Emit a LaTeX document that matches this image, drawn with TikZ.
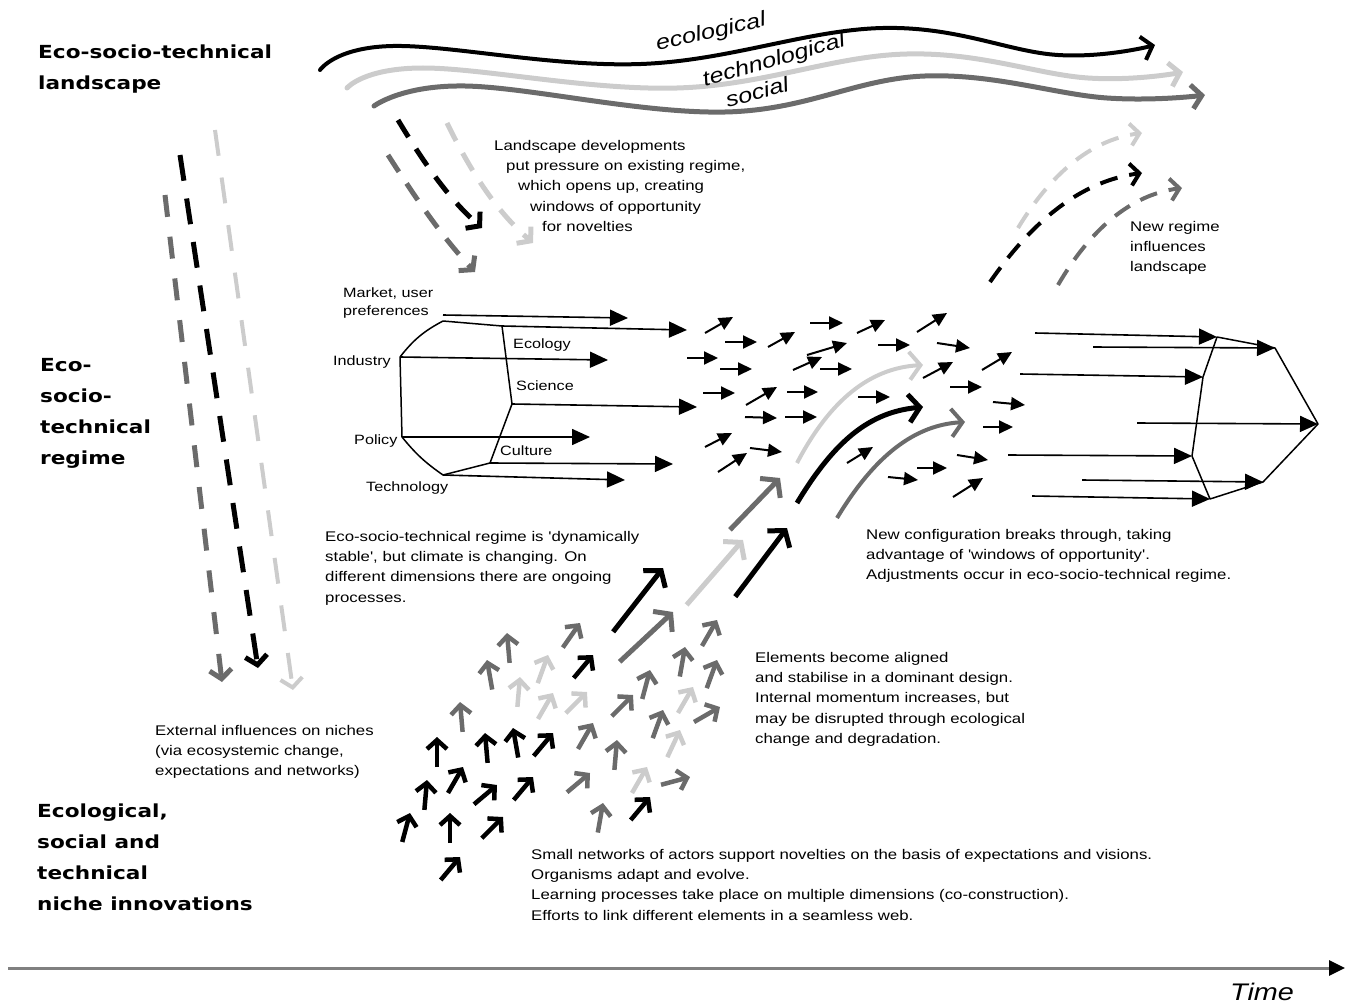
\documentclass[tikz,border=0pt]{standalone}
\usepackage{fontspec}
\newfontfamily\headfont[FakeStretch=1.2]{DejaVu Sans Bold}
\newfontfamily\bodyfont[FakeStretch=1.2]{Liberation Sans}
\usetikzlibrary{arrows.meta,positioning,calc}
\definecolor{darkgr}{gray}{0.42}
\definecolor{lightgr}{gray}{0.8}

\begin{document}
\begin{tikzpicture}[x=1pt,y=-1pt,
 level/.style={anchor=north west,inner sep=0pt,align=left,font=\headfont\fontsize{18}{31}\selectfont},
 txt/.style={anchor=north west,inner sep=0pt,align=left,font=\bodyfont\fontsize{14}{20.3}\selectfont},
 lab/.style={anchor=north west,inner sep=0pt,align=left,font=\bodyfont\fontsize{13.5}{18}\selectfont},
 hand/.style={inner sep=0pt,font=\bodyfont\itshape\fontsize{21}{21}\selectfont},
 wave/.style={line width=4pt,line cap=round,-{Straight Barb[length=10pt,width=24pt]}},
 press/.style={line width=5pt,dash pattern=on 20pt off 14pt,-{Straight Barb[length=9pt,width=22pt]}},
 flow/.style={line width=1.6pt,-{Triangle[length=18pt,width=16pt]}},
 edge/.style={line width=1.5pt,line join=round},
 tiny/.style={line width=2pt,-{Triangle[length=14pt,width=13pt]}},
 niche/.style={line width=4.5pt,-{Straight Barb[length=9pt,width=20pt]}},
 burst/.style={line width=5pt,-{Straight Barb[length=11pt,width=28pt]}}]
 \useasboundingbox (0,0) rectangle (1351,1006);

 % levels
 \node[level] (land) at (38,45) {Eco-socio-technical\\landscape};
 \node[level] (regime) at (40,358) {Eco-\\socio-\\technical\\regime};
 \node[level] (niche) at (37,804) {Ecological,\\social and\\technical\\niche innovations};

 % landscape waves
 \draw[wave] plot[smooth,tension=0.65] coordinates {(320,70) (393,46) (641,64) (883,28) (1058,55) (1155,45)};
 \draw[wave,lightgr,line width=5pt] plot[smooth,tension=0.65] coordinates {(347,88) (423,68) (677,88) (907,54) (1088,78) (1183,72)};
 \draw[wave,darkgr,line width=5pt] plot[smooth,tension=0.65] coordinates {(374,106) (465,86) (725,112) (925,76) (1107,98) (1205,95)};
 \node[hand,rotate=13] (eco) at (711,33) {ecological};
 \node[hand,rotate=16] (tech) at (774,61) {technological};
 \node[hand,rotate=15] (soc) at (757,92) {social};

 % pressure on the regime
 \draw[press,darkgr] (388,155) .. controls (420,205) and (445,240) .. (475,272);
 \draw[press] (398,120) .. controls (425,165) and (450,200) .. (482,228);
 \draw[press,lightgr] (447,123) .. controls (470,170) and (495,210) .. (533,243);
 \node[txt] (pressure) at (494,140) {Landscape developments\\\hspace*{12pt}put pressure on existing regime,\\\hspace*{24pt}which opens up, creating\\\hspace*{36pt}windows of opportunity\\\hspace*{48pt}for novelties};

 % external influences on niches
 \draw[press,darkgr,dash pattern=on 22pt off 20pt] (165,195) -- (222,682);
 \draw[press,dash pattern=on 26pt off 18pt] (180,155) -- (258,668);
 \draw[press,lightgr,line width=4pt,dash pattern=on 26pt off 22pt] (215,130) -- (293,690);
 \node[txt] (external) at (155,725) {External influences on niches\\(via ecosystemic change,\\expectations and networks)};

 % old regime
 \coordinate (o1) at (443,321);
 \coordinate (o2) at (502,326);
 \coordinate (o3) at (512,404);
 \coordinate (o4) at (490,463);
 \coordinate (o5) at (443,475);
 \coordinate (o6) at (402,437);
 \coordinate (o7) at (400,357);
 \coordinate (m0) at (443,315);
 \draw[edge] (o7) to[bend left=12] (o1) -- (o2) -- (o3) -- (o4) -- (o5) to[bend left=8] (o6) -- (o7);
 \coordinate (e1) at (628,318);
 \coordinate (e2) at (687,330);
 \coordinate (e3) at (608,360);
 \coordinate (e4) at (697,407);
 \coordinate (e5) at (590,437);
 \coordinate (e6) at (673,464);
 \coordinate (e7) at (625,480);
 \draw[flow] (m0) -- (e1);
 \draw[flow] (o2) -- (e2);
 \draw[flow] (o7) -- (e3);
 \draw[flow] (o3) -- (e4);
 \draw[flow] (o6) -- (e5);
 \draw[flow] (o4) -- (e6);
 \draw[flow] (o5) -- (e7);
 \node[lab] (market) at (343,288) {Market, user\\preferences};
 \node[lab] (industry) at (333,356) {Industry};
 \node[lab] (ecology) at (513,339) {Ecology};
 \node[lab] (science) at (516,381) {Science};
 \node[lab] (policy) at (354,435) {Policy};
 \node[lab] (culture) at (500,446) {Culture};
 \node[lab] (techno) at (366,482) {Technology};
 \node[txt] (stable) at (325,531) {Eco-socio-technical regime is 'dynamically\\stable', but climate is changing. On\\different dimensions there are ongoing\\processes.};

 % unsettled regime
 \foreach \x/\y/\u/\v in {705/333/733/317,725/342/757/342,768/347/795/332,810/323/843/323,857/333/885/320,
  917/332/947/313,687/358/718/358,720/369/752/369,793/370/822/357,807/355/847/343,820/369/852/369,
  878/345/910/345,937/343/970/348,923/378/953/362,982/370/1012/352,703/393/735/393,746/405/777/387,
  787/392/818/392,858/397/890/397,950/387/982/387,993/402/1025/405,745/417/777/418,785/417/817/417,
  983/427/1013/427,705/447/732/433,750/448/782/452,718/472/747/453,847/463/873/447,957/455/988/460,
  888/477/918/480,917/468/947/468,953/497/983/478}
  \draw[tiny] (\x,\y) -- (\u,\v);

 % breakthrough
 \draw[burst,lightgr,line width=4pt] (797,463) .. controls (830,400) and (870,368) .. (923,365);
 \draw[burst] (797,503) .. controls (835,440) and (870,412) .. (923,407);
 \draw[burst,darkgr,line width=4pt] (837,518) .. controls (875,455) and (915,425) .. (965,422);
 \node[txt] (config) at (866,529) {New configuration breaks through, taking\\advantage of 'windows of opportunity'.\\Adjustments occur in eco-socio-technical regime.};

 % new regime
 \coordinate (n1) at (1217,337);
 \coordinate (n2) at (1275,348);
 \coordinate (n3) at (1318,424);
 \coordinate (n4) at (1263,482);
 \coordinate (n5) at (1210,499);
 \coordinate (n6) at (1192,456);
 \coordinate (n7) at (1203,377);
 \draw[edge] (n1) -- (n2) -- (n3) -- (n4) -- (n5) -- (n6) -- (n7) -- cycle;
 \coordinate (s1) at (1035,333);
 \coordinate (s2) at (1093,347);
 \coordinate (s3) at (1020,374);
 \coordinate (s4) at (1137,423);
 \coordinate (s5) at (1008,455);
 \coordinate (s6) at (1082,480);
 \coordinate (s7) at (1032,496);
 \draw[flow] (s1) -- (n1);
 \draw[flow] (s2) -- (n2);
 \draw[flow] (s3) -- (n7);
 \draw[flow] (s4) -- (n3);
 \draw[flow] (s5) -- (n6);
 \draw[flow] (s6) -- (n4);
 \draw[flow] (s7) -- (n5);

 % new regime back to landscape
 \draw[press,lightgr,line width=4pt,dash pattern=on 18pt off 12pt] (1018,228) .. controls (1050,175) and (1090,140) .. (1142,133);
 \draw[press,line width=4pt,dash pattern=on 18pt off 12pt] (990,282) .. controls (1040,210) and (1090,180) .. (1142,173);
 \draw[press,darkgr,line width=4pt,dash pattern=on 18pt off 12pt] (1058,285) .. controls (1090,230) and (1130,195) .. (1182,188);
 \node[txt] (influence) at (1130,221) {New regime\\influences\\landscape};

 % niche innovations
 \foreach \x/\y/\a/\c in {507/633/95/darkgr,580/623/55/darkgr,548/655/70/lightgr,593/655/50/black,
  487/660/100/darkgr,520/677/85/lightgr,553/693/60/lightgr,587/692/45/lightgr,685/647/80/darkgr,
  717/620/60/darkgr,717/660/70/darkgr,650/670/75/darkgr,633/695/45/darkgr,693/687/60/lightgr,
  720/707/30/darkgr,663/710/70/darkgr,680/730/65/lightgr,460/702/95/darkgr,437/737/90/black,
  485/733/95/black,513/728/100/black,553/733/50/black,593/723/60/darkgr,617/740/85/darkgr,
  427/780/85/black,463/767/60/black,497/785/40/black,533/777/50/black,590/773/40/darkgr,
  647/767/60/lightgr,690/777/15/darkgr,410/813/75/black,450/813/90/black,503/817/45/black,
  603/803/80/darkgr,650/797/50/black,460/857/50/black}
  \draw[niche,\c] ($(\x,\y)+(180-\a:30)$) -- (\x,\y);
 \foreach \x/\y/\a/\l/\c in {780/478/46/72/darkgr,787/528/53/86/black,743/540/49/86/lightgr,
  663/568/52/81/black,673/612/43/73/darkgr}
  \draw[burst,\c] ($(\x,\y)+(180-\a:\l)$) -- (\x,\y);
 \node[txt] (aligned) at (755,652) {Elements become aligned\\and stabilise in a dominant design.\\Internal momentum increases, but\\may be disrupted through ecological\\change and degradation.};
 \node[txt] (networks) at (531,849) {Small networks of actors support novelties on the basis of expectations and visions.\\Organisms adapt and evolve.\\Learning processes take place on multiple dimensions (co-construction).\\Efforts to link different elements in a seamless web.};

 % time axis
 \coordinate (t0) at (8,968);
 \coordinate (t1) at (1345,968);
 \draw[line width=3pt,gray,-{Triangle[length=16pt,width=15pt,color=black]}] (t0) -- (t1);
 \node[hand,font=\bodyfont\itshape\fontsize{24}{24}\selectfont] (time) at (1262,992) {Time};
\end{tikzpicture}
\end{document}
